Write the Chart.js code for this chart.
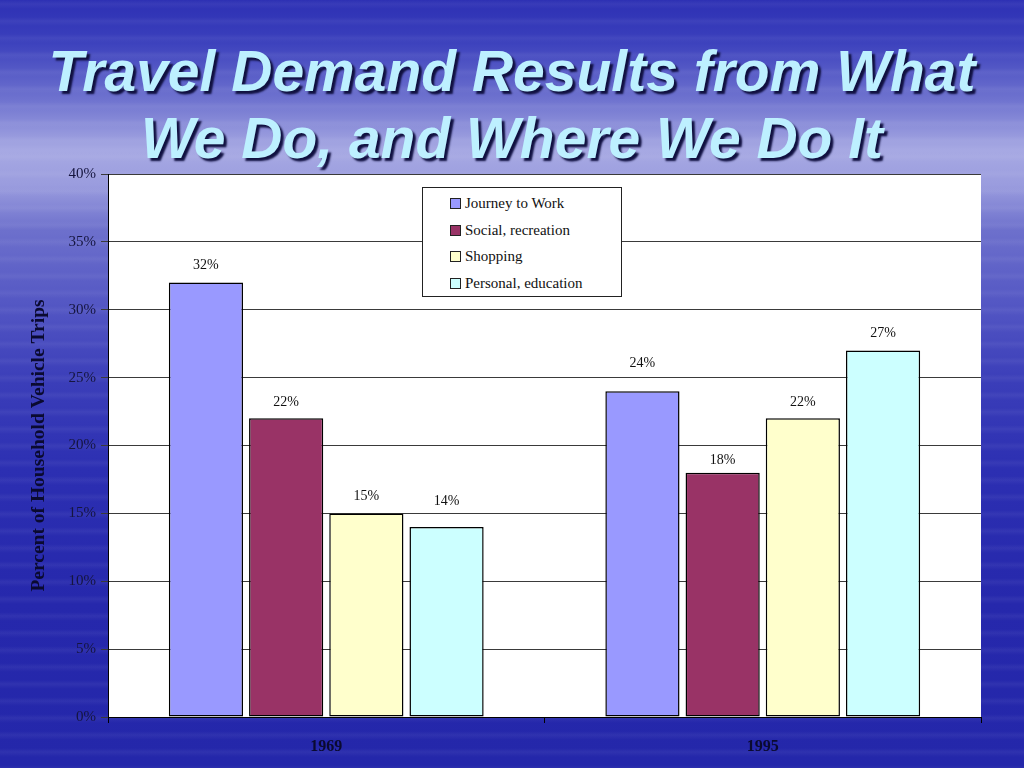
<!DOCTYPE html>
<html>
<head>
<meta charset="utf-8">
<script src="https://cdn.jsdelivr.net/npm/chart.js@4"></script>
<style>
html,body{margin:0;padding:0;width:1024px;height:768px;overflow:hidden;}
body{
  background:
    repeating-linear-gradient(180deg, rgba(255,255,255,0) 0px, rgba(255,255,255,0.05) 4px, rgba(255,255,255,0) 9px, rgba(255,255,255,0) 17px),
    linear-gradient(180deg,#2d30b4 0px,#3a3fbc 40px,#6f73cf 100px,#a7a9e3 150px,#9a9cde 185px,#6d70cc 230px,#5558c4 300px,#3b3eb9 380px,#2c2fb2 470px,#2628ac 600px,#2427aa 768px);
  position:relative;
}
#title{position:absolute;left:0;top:38px;width:1024px;text-align:center;
  font-family:"Liberation Sans",Arial,sans-serif;font-weight:bold;font-style:italic;font-size:57px;line-height:67px;
  color:#bdf0ff;text-shadow:3px 3px 2px #101040;}
#c{position:absolute;left:0;top:0;}
#legend{position:absolute;left:422px;top:187px;width:200px;height:110px;background:#fff;border:1px solid #222;
  font-family:"Liberation Serif","Times New Roman",serif;font-size:15px;color:#111;box-sizing:border-box;padding-top:3px;}
#legend div{height:26.5px;line-height:24px;padding-left:42px;position:relative;}
#legend span{position:absolute;left:27px;top:7px;width:9px;height:9px;border:1px solid #222;}
</style>
</head>
<body>
<div id="title">Travel Demand Results from What<br>We Do, and Where We Do It</div>
<canvas id="c" width="1024" height="768"></canvas>
<div id="legend"></div>
<script>
const categories = ["1969", "1995"];
const seriesNames = ["Journey to Work", "Social, recreation", "Shopping", "Personal, education"];
const journeyToWork = [32, 24];
const socialRecreation = [22, 18];
const shopping = [15, 22];
const personalEducation = [14, 27];
const yTicks = [0, 5, 10, 15, 20, 25, 30, 35, 40];
const colors = ["#9999ff", "#993366", "#ffffcc", "#ccffff"];

const seriesValues = [journeyToWork, socialRecreation, shopping, personalEducation];

const legendEl = document.getElementById('legend');
seriesNames.forEach((n,i)=>{
  const d=document.createElement('div');
  const s=document.createElement('span');
  s.style.background=colors[i];
  d.appendChild(s);
  d.appendChild(document.createTextNode(n));
  legendEl.appendChild(d);
});

const bgPlugin = {
  id:'bg',
  beforeDraw(chart){
    const {ctx, chartArea:a} = chart;
    ctx.save();
    ctx.fillStyle='#ffffff';
    ctx.fillRect(a.left,a.top,a.right-a.left,a.bottom-a.top);
    ctx.restore();
  },
  afterDatasetsDraw(chart, args, opts){
    const ctx = chart.ctx;
    ctx.save();
    ctx.font = '14px "Liberation Serif", "Times New Roman", serif';
    ctx.fillStyle = '#111';
    ctx.textAlign='center';
    ctx.textBaseline='middle';
    chart.data.datasets.forEach((ds,i)=>{
      chart.getDatasetMeta(i).data.forEach((bar,j)=>{
        const off = (opts.gaps && opts.gaps[i]) ? opts.gaps[i][j] : 17;
        ctx.fillText(ds.data[j]+'%', bar.x, bar.y-off);
      });
    });
    ctx.restore();
  }
};

new Chart(document.getElementById('c'), {
  type:'bar',
  data:{
    labels:categories,
    datasets: seriesNames.map((n,i)=>({
      label:n,
      data:seriesValues[i],
      backgroundColor:colors[i],
      borderColor:'#000',
      borderWidth:1.5,
      borderSkipped:false,
      categoryPercentage:0.735,
      barPercentage:0.925
    }))
  },
  options:{
    responsive:false,
    animation:false,
    devicePixelRatio:1,
    layout:{padding:{left:22,top:174,right:43,bottom:0}},
    plugins:{legend:{display:false},tooltip:{enabled:false},title:{display:false},
      bg:{gaps:[[17,28],[16,12],[17,16],[26,17]]}},
    scales:{
      x:{
        grid:{display:true,drawOnChartArea:false,color:'#000',tickLength:6,offset:true},
        border:{display:true,color:'#000',width:1},
        ticks:{color:'#0a0a30',font:{family:'"Liberation Serif", "Times New Roman", serif',size:16,weight:'bold'},padding:14},
        afterFit(s){s.height=768-717;}
      },
      y:{
        min:0,max:40,
        afterBuildTicks(s){s.ticks=yTicks.map(v=>({value:v}));},
        grid:{color:'#3a3a3a',tickLength:7,lineWidth:1},
        border:{display:true,color:'#000',width:1},
        ticks:{color:'#15153f',font:{family:'"Liberation Serif", "Times New Roman", serif',size:15},padding:5,
          callback:v=>v+'%'},
        title:{display:true,text:'Percent of Household Vehicle Trips',color:'#0a0a30',
          font:{family:'"Liberation Serif", "Times New Roman", serif',size:19.5,weight:'bold'},padding:{top:5,bottom:0}},
        afterFit(s){s.width=86;}
      }
    }
  },
  plugins:[bgPlugin]
});
</script>
</body>
</html>
